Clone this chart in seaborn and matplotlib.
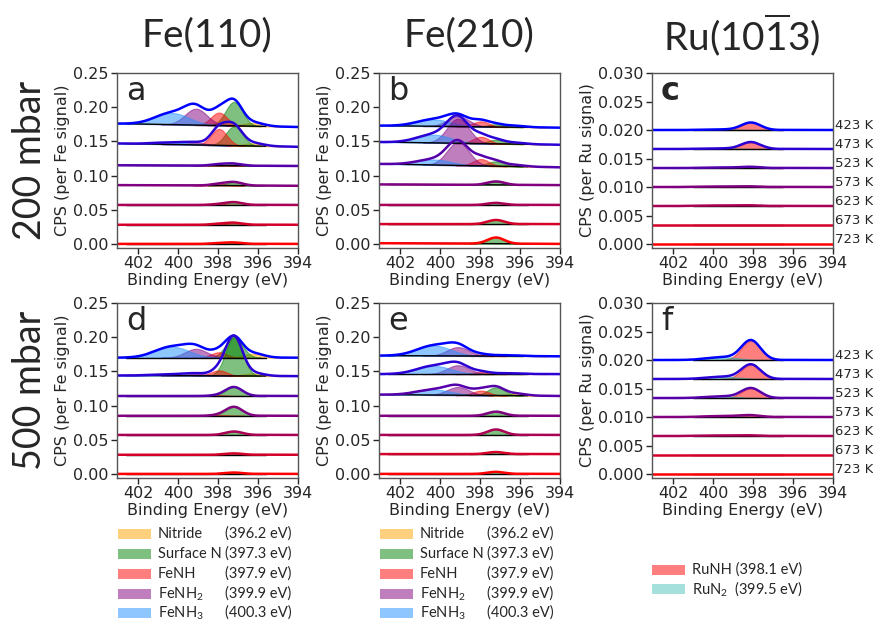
import numpy as np
import matplotlib
matplotlib.use("Agg")
import matplotlib.pyplot as plt
import seaborn as sns
from matplotlib.patches import Rectangle

# temperatures, top spectrum to bottom spectrum
temps = [423, 473, 523, 573, 623, 673, 723]

# Fe components: name, label energy, peak position used, width (sigma), colour
fe_names = ["Nitride", "Surface N", "FeNH", "FeNH$_\\mathrm{2}$", "FeNH$_\\mathrm{3}$"]
fe_energies = ["(396.2 eV)", "(397.3 eV)", "(397.9 eV)", "(399.9 eV)", "(400.3 eV)"]
fe_centers = [396.2, 397.2, 397.95, 399.1, 400.3]
fe_sigmas = [0.5, 0.42, 0.4, 0.55, 0.85]
fe_colors = ["#FFA500", "#008000", "#FF0000", "#800080", "#1E90FF"]

ru_names = ["RuNH (398.1 eV)", "RuN$_\\mathrm{2}$  (399.5 eV)"]
ru_centers = [398.1, 399.5]
ru_sigmas = [0.48, 0.8]
ru_colors = ["#FF0000", "#20B2AA"]

# baseline value at 394 eV and rise towards 403 eV, per spectrum
a_base = [0.171, 0.142, 0.114, 0.085, 0.057, 0.028, 0.0]
a_tilt = [0.005, 0.005, 0.001, 0.001, 0.0, 0.0, 0.0]
b_base = [0.170, 0.145, 0.112, 0.086, 0.057, 0.029, 0.0]
b_tilt = [0.003, 0.004, 0.005, 0.001, 0.0, 0.0, 0.001]
d_base = [0.170, 0.143, 0.114, 0.085, 0.057, 0.028, 0.0]
d_tilt = [0.0, 0.001, 0.0, 0.0, 0.0, 0.0, 0.0]
e_base = [0.172, 0.146, 0.114, 0.085, 0.057, 0.029, 0.0]
e_tilt = [0.001, 0.0, 0.002, 0.0, 0.0, 0.0, 0.0]
ru_base = [0.020, 0.01667, 0.01333, 0.010, 0.00667, 0.00333, 0.0]

# peak amplitudes (rows = components, columns = temperatures)
a_amp = [[0.005, 0.004, 0.0, 0.0, 0.0, 0.0, 0.0],
         [0.035, 0.028, 0.003, 0.005, 0.004, 0.003, 0.002],
         [0.019, 0.024, 0.002, 0.002, 0.001, 0.001, 0.001],
         [0.024, 0.003, 0.0, 0.0, 0.0, 0.0, 0.0],
         [0.017, 0.003, 0.0, 0.0, 0.0, 0.0, 0.0]]
b_amp = [[0.002, 0.002, 0.002, 0.0, 0.0, 0.0, 0.0],
         [0.004, 0.006, 0.007, 0.005, 0.003, 0.006, 0.009],
         [0.008, 0.010, 0.010, 0.0, 0.0, 0.0, 0.0],
         [0.015, 0.036, 0.034, 0.0, 0.0, 0.0, 0.0],
         [0.010, 0.012, 0.008, 0.0, 0.0, 0.0, 0.0]]
d_amp = [[0.006, 0.004, 0.0, 0.0, 0.0, 0.0, 0.0],
         [0.030, 0.057, 0.013, 0.013, 0.005, 0.002, 0.002],
         [0.008, 0.008, 0.001, 0.001, 0.0, 0.0, 0.0],
         [0.013, 0.003, 0.0, 0.0, 0.0, 0.0, 0.0],
         [0.016, 0.002, 0.0, 0.0, 0.0, 0.0, 0.0]]
e_amp = [[0.001, 0.001, 0.003, 0.0, 0.0, 0.0, 0.0],
         [0.001, 0.001, 0.012, 0.006, 0.008, 0.003, 0.003],
         [0.002, 0.003, 0.007, 0.0, 0.0, 0.0, 0.0],
         [0.013, 0.013, 0.012, 0.0, 0.0, 0.0, 0.0],
         [0.015, 0.012, 0.008, 0.0, 0.0, 0.0, 0.0]]
c_amp = [[0.0013, 0.0012, 0.0002, 0.0001, 0.0001, 0.0, 0.0],
         [0.0001, 0.0001, 0.0001, 0.0001, 0.0001, 0.0, 0.0]]
f_amp = [[0.0034, 0.0025, 0.0017, 0.0003, 0.0001, 0.0, 0.0],
         [0.0005, 0.0004, 0.0003, 0.0002, 0.0001, 0.0, 0.0]]

col_titles = ["Fe(110)", "Fe(210)", "Ru(10$\\overline{\\mathrm{1}}$3)"]
row_titles = ["200 mbar", "500 mbar"]
letters = ["a", "b", "c", "d", "e", "f"]

sns.set_style("ticks")
plt.rcParams["font.family"] = ["DejaVu Sans"]
plt.rcParams["mathtext.fontset"] = "custom"
plt.rcParams["mathtext.rm"] = "Lato"
plt.rcParams["mathtext.it"] = "Lato:italic"
plt.rcParams["mathtext.bf"] = "Lato:bold"

be = np.linspace(394, 403.05, 400)


def gauss(c, s):
    return np.exp(-(be - c) ** 2 / (2 * s ** 2))


fig = plt.figure(figsize=(8.73, 6.26), dpi=100)


def px_axes(l, t, w, h):
    return fig.add_axes([l / 873, 1 - (t + h) / 626, w / 873, h / 626])


panels = [
    (a_base, a_tilt, a_amp, "fe"), (b_base, b_tilt, b_amp, "fe"), (ru_base, None, c_amp, "ru"),
    (d_base, d_tilt, d_amp, "fe"), (e_base, e_tilt, e_amp, "fe"), (ru_base, None, f_amp, "ru"),
]
lefts = [117, 379, 652]
tops = [73, 303]
n = len(temps)
line_cols = [(k / (n - 1), 0.0, 1 - k / (n - 1)) for k in range(n)]

for i, (base, tilt, amps, kind) in enumerate(panels):
    ax = px_axes(lefts[i % 3], tops[i // 3], 181, 175)
    if kind == "fe":
        centers, sigmas, colors = fe_centers, fe_sigmas, fe_colors
        bg_lo, bg_hi = 395.6, 402.6
    else:
        centers, sigmas, colors = ru_centers, ru_sigmas, ru_colors
        bg_lo, bg_hi = 396.5, 401.0
    for k in range(n):
        t = tilt[k] if tilt is not None else 0.0
        bg = base[k] + t * (be - 394) / 9.05
        total = bg.copy()
        for j in range(len(centers)):
            amp = amps[j][k]
            if amp <= 0:
                continue
            comp = amp * gauss(centers[j], sigmas[j])
            total += comp
            mask = np.abs(be - centers[j]) < 3.2 * sigmas[j]
            ax.fill_between(be[mask], bg[mask], bg[mask] + comp[mask], color=colors[j],
                            alpha=0.5, lw=0.8)
        m = (be > bg_lo) & (be < bg_hi)
        ax.plot(be[m], bg[m], color="black", lw=1.0)
        sns.lineplot(x=be, y=total, ax=ax, color=line_cols[k], lw=1.8, legend=False)
        if kind == "ru":
            ax.text(1.01, base[k] + 0.0008, f"{temps[k]} K", transform=ax.get_yaxis_transform(),
                    fontsize=9.5, va="center", ha="left")
    ax.set_xlim(403.05, 394)
    ax.set_xticks([402, 400, 398, 396, 394])
    if kind == "fe":
        ax.set_ylim(-0.006, 0.25)
        ax.set_yticks([0.0, 0.05, 0.10, 0.15, 0.20, 0.25])
        ax.set_yticklabels(["0.00", "0.05", "0.10", "0.15", "0.20", "0.25"])
        ax.set_ylabel("CPS (per Fe signal)", fontsize=11.5, labelpad=2)
    else:
        ax.set_ylim(-0.0007, 0.030)
        ax.set_yticks([0.0, 0.005, 0.010, 0.015, 0.020, 0.025, 0.030])
        ax.set_yticklabels(["0.000", "0.005", "0.010", "0.015", "0.020", "0.025", "0.030"])
        ax.set_ylabel("CPS (per Ru signal)", fontsize=11.5, labelpad=2)
    ax.set_xlabel("Binding Energy (eV)", fontsize=11.5, labelpad=1)
    ax.tick_params(labelsize=11.5, length=4, width=1, pad=2)
    for sp in ax.spines.values():
        sp.set_linewidth(1.0)
        sp.set_color("#555555")
    ax.text(0.05, 0.98, letters[i], transform=ax.transAxes, fontsize=23, va="top", ha="left",
            fontweight="bold" if letters[i] == "c" else "normal")

# column and row titles
for c, title in enumerate(col_titles):
    fig.text((lefts[c] + 90) / 873, 1 - 35 / 626, title, family="Lato", fontsize=28,
             ha="center", va="center")
for r, title in enumerate(row_titles):
    fig.text(30 / 873, 1 - (160 + 230 * r) / 626, title, family="Lato", fontsize=27,
             rotation=90, ha="center", va="center")

# legends below the columns
rows_y = [534, 554, 574, 594, 613]
for off in [0, 262]:
    for j in range(len(fe_names)):
        y = rows_y[j]
        fig.patches.append(Rectangle(((118 + off) / 873, 1 - (y + 5) / 626), 33 / 873, 10 / 626,
                                     transform=fig.transFigure, color=fe_colors[j], alpha=0.5,
                                     lw=0))
        fig.text((158 + off) / 873, 1 - y / 626, fe_names[j], family="Lato", fontsize=10.5,
                 va="center", ha="left")
        fig.text((225 + off) / 873, 1 - y / 626, fe_energies[j], family="Lato", fontsize=10.5,
                 va="center", ha="left")
for j, y in enumerate([570, 589]):
    fig.patches.append(Rectangle((652 / 873, 1 - (y + 5) / 626), 33 / 873, 10 / 626,
                                 transform=fig.transFigure, color=ru_colors[j],
                                 alpha=0.5 if j == 0 else 0.4, lw=0))
    fig.text(692 / 873, 1 - y / 626, ru_names[j], family="Lato", fontsize=10.5,
             va="center", ha="left")

fig.savefig("out.png", dpi=100)
